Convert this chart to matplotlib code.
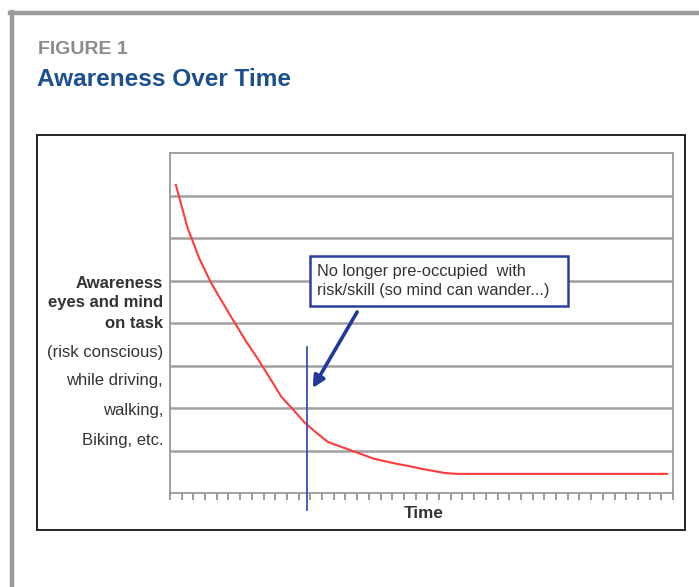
import matplotlib.pyplot as plt
from matplotlib.lines import Line2D
from matplotlib.patches import Rectangle

# awareness level for each time category (Excel-style line chart, 43 categories)
awareness = [7.25, 6.24, 5.52, 4.95, 4.48, 4.02, 3.57, 3.16, 2.72, 2.27,
             1.97, 1.66, 1.42, 1.20, 1.10, 1.00, 0.90, 0.80, 0.74, 0.68,
             0.63, 0.57, 0.52, 0.47, 0.45] + [0.45] * 18
n_cat = len(awareness)
grid_levels = [1, 2, 3, 4, 5, 6, 7]
y_max = 8

label_lines = [("Awareness", "bold"), ("eyes and mind", "bold"), ("on task", "bold"),
               ("(risk conscious)", "normal"), ("while driving,", "normal"),
               ("walking,", "normal"), ("Biking, etc.", "normal")]
label_ys = [283, 303, 323, 352, 381, 411, 441]
callout = "No longer pre-occupied  with\nrisk/skill (so mind can wander...)"
marker_x = 11.7

W, H = 699, 587
fig = plt.figure(figsize=(W / 100, H / 100), dpi=100)
fig.patch.set_facecolor("white")

def fx(px):
    return px / W

def fy(py):
    return 1 - py / H

# outer page frame (top and left rules)
fig.add_artist(Line2D([fx(10), 1], [fy(13), fy(13)], color="#9a9a9a", lw=3.2,
                      transform=fig.transFigure))
fig.add_artist(Line2D([fx(12), fx(12)], [fy(11.5), 0], color="#9a9a9a", lw=3.2,
                      transform=fig.transFigure))

fig.text(fx(38), fy(50), "FIGURE 1", color="#8c8c8c", fontsize=14, fontweight="bold",
         family="Liberation Sans", va="center", ha="left")
fig.text(fx(37), fy(80), "Awareness Over Time", color="#1c4f8f", fontsize=17.6,
         fontweight="bold", family="Liberation Sans", va="center", ha="left")

# chart box
fig.add_artist(Rectangle((fx(37), fy(530)), fx(685) - fx(37), fy(135) - fy(530),
                         fill=False, ec="#222222", lw=1.4, transform=fig.transFigure))

ax = fig.add_axes([fx(170), fy(493), fx(673) - fx(170), fy(153) - fy(493)])
ax.set_xlim(0, n_cat)
ax.set_ylim(0, y_max)

for lv in grid_levels:
    ax.axhline(lv, color="#a0a0a0", lw=1.8, zorder=1)
for side in ["left", "bottom", "top", "right"]:
    ax.spines[side].set_color("#9a9a9a")
    ax.spines[side].set_linewidth(1.3)

ax.set_xticks(range(n_cat + 1))
ax.set_xticklabels([])
ax.set_yticks([])
ax.tick_params(axis="x", direction="out", length=5, width=1.2, color="#8a8a8a")

xs = [i + 0.5 for i in range(n_cat)]
ax.plot(xs, awareness, color="#ff3b3b", lw=1.5, zorder=3)

# vertical marker that runs past the axis
ax.plot([marker_x, marker_x], [3.44, -0.4], color="#3a4fb5", lw=1.3, clip_on=False, zorder=4)

ax.annotate("", xy=(12.2, 2.47), xytext=(16.0, 4.26),
            arrowprops=dict(arrowstyle="-|>,head_length=0.7,head_width=0.35",
                            color="#1f3a9a", lw=2.6, shrinkA=0, shrinkB=0),
            zorder=5)

# callout box
ax.add_patch(Rectangle((11.97, 4.4), 22.05, 1.18, fc="white", ec="#2b3f9e", lw=1.8, zorder=6))
ax.text(12.6, 4.99, callout, fontsize=11.8, color="#333333", family="Liberation Sans",
        va="center", ha="left", linespacing=1.3, zorder=7)

for (txt, wt), py in zip(label_lines, label_ys):
    fig.text(fx(163), fy(py), txt, fontsize=12, fontweight=wt, color="#333333",
             family="Liberation Sans", ha="right", va="center")

fig.text(fx(424), fy(513), "Time", fontsize=12.3, fontweight="bold", color="#333333",
         family="Liberation Sans", ha="center", va="center")

fig.savefig("out.png", dpi=100)
